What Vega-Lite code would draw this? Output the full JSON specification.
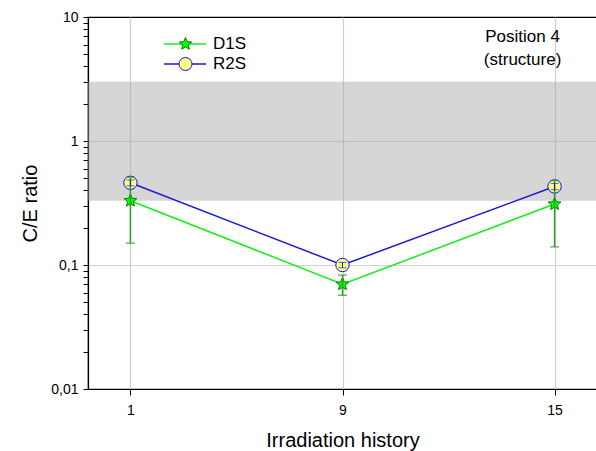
{
  "$schema": "https://vega.github.io/schema/vega-lite/v6.json",
  "width": 509,
  "height": 372,
  "autosize": {"type": "none"},
  "padding": {"left": 88, "top": 17, "right": 0, "bottom": 62},
  "background": "white",
  "config": {
    "font": "Liberation Sans",
    "view": {"stroke": "black", "strokeWidth": 1.2},
    "axis": {
      "domainColor": "black",
      "domainWidth": 1.2,
      "tickColor": "black",
      "labelColor": "black",
      "titleColor": "black",
      "labelFont": "Liberation Sans",
      "titleFont": "Liberation Sans",
      "titleFontWeight": "normal",
      "labelFontSize": 14,
      "titleFontSize": 20,
      "gridColor": "#d0d0d0",
      "gridWidth": 1.2
    }
  },
  "datasets": {
    "pts": [
      {"hist": 1, "series": "D1S", "v": 0.33, "lo": 0.15, "hi": 0.51},
      {"hist": 9, "series": "D1S", "v": 0.07, "lo": 0.057, "hi": 0.083},
      {"hist": 15, "series": "D1S", "v": 0.31, "lo": 0.14, "hi": 0.48},
      {"hist": 1, "series": "R2S", "v": 0.46, "lo": 0.435, "hi": 0.485},
      {"hist": 9, "series": "R2S", "v": 0.1, "lo": 0.095, "hi": 0.105},
      {"hist": 15, "series": "R2S", "v": 0.43, "lo": 0.405, "hi": 0.455}
    ],
    "band": [{"lo": 0.33, "hi": 3}],
    "note": [{"hist": 15, "v": 6.9, "label": ["Position 4", "(structure)"]}]
  },
  "layer": [
    {
      "data": {"name": "band"},
      "mark": {"type": "rect", "color": "#a4a4a4", "opacity": 0.45},
      "encoding": {
        "y": {
          "field": "lo",
          "type": "quantitative",
          "title": "C/E ratio",
          "scale": {"type": "log", "domain": [0.01, 10], "nice": false},
          "axis": {
            "titlePadding": 10,
            "values": [0.01,0.02,0.03,0.04,0.05,0.06,0.07,0.08,0.09,0.1,0.2,0.3,0.4,0.5,0.6,0.7,0.8,0.9,1,2,3,4,5,6,7,8,9,10],
            "labelExpr": "datum.value==0.01?'0,01':datum.value==0.1?'0,1':datum.value==1?'1':datum.value==10?'10':''",
            "labelFontSize": 14,
            "labelPadding": 5,
            "tickSize": 5,
            "gridOpacity": {"condition": {"test": "datum.value==0.1||datum.value==1", "value": 1}, "value": 0}
          }
        },
        "y2": {"field": "hi"}
      }
    },
    {
      "data": {"name": "pts"},
      "mark": {"type": "line", "strokeWidth": 1.5},
      "encoding": {
        "x": {
          "field": "hist",
          "type": "ordinal",
          "title": "Irradiation history",
          "scale": {"type": "point", "padding": 0.2},
          "axis": {
            "labelAngle": 0,
            "labelFontSize": 14,
            "tickSize": 6,
            "labelPadding": 8,
            "titlePadding": 13,
            "grid": true
          }
        },
        "y": {"field": "v", "type": "quantitative", "title": "C/E ratio"},
        "color": {
          "field": "series",
          "type": "nominal",
          "scale": {"domain": ["D1S", "R2S"], "range": ["#14ee14", "#1a1ad6"]},
          "legend": {
            "orient": "none",
            "legendX": 75,
            "legendY": 17,
            "title": null,
            "symbolType": "stroke",
            "symbolSize": 1764,
            "symbolStrokeWidth": 1.5,
            "labelFontSize": 17,
            "labelFont": "Liberation Sans",
            "labelColor": "black",
            "labelOffset": 6,
            "clipHeight": 20,
            "rowPadding": 0,
            "padding": 0
          }
        }
      }
    },
    {
      "data": {"name": "pts"},
      "mark": {"type": "point", "filled": true, "opacity": 1, "strokeWidth": 1, "size": 180},
      "encoding": {
        "x": {"field": "hist", "type": "ordinal", "title": "Irradiation history"},
        "y": {"field": "v", "type": "quantitative", "title": "C/E ratio"},
        "shape": {
          "field": "series",
          "type": "nominal",
          "scale": {"range": ["M0,-1L0.265,-0.364L0.951,-0.309L0.428,0.139L0.588,0.809L0,0.45L-0.588,0.809L-0.428,0.139L-0.951,-0.309L-0.265,-0.364Z", "circle"]},
          "legend": {
            "orient": "none",
            "legendX": 90,
            "legendY": 17,
            "title": null,
            "symbolSize": 170,
            "symbolStrokeWidth": 1,
            "labelExpr": "''",
            "clipHeight": 20,
            "rowPadding": 0,
            "padding": 0
          }
        },
        "fill": {
          "field": "series",
          "type": "nominal",
          "scale": {"range": ["#00ff00", "#ffff80"]},
          "legend": {"orient": "none", "title": null}
        },
        "stroke": {
          "field": "series",
          "type": "nominal",
          "scale": {"range": ["#0a7a0a", "#1010ff"]},
          "legend": {"orient": "none", "title": null}
        }
      }
    },
    {
      "data": {"name": "pts"},
      "transform": [{"filter": "datum.series == 'D1S'"}],
      "mark": {"type": "errorbar", "color": "#2f9a2f", "ticks": {"size": 9, "thickness": 1.5}, "rule": {"strokeWidth": 1.5}},
      "encoding": {
        "x": {"field": "hist", "type": "ordinal", "title": "Irradiation history"},
        "y": {"field": "lo", "type": "quantitative", "title": "C/E ratio"},
        "y2": {"field": "hi"}
      }
    },
    {
      "data": {"name": "pts"},
      "transform": [{"filter": "datum.series == 'R2S'"}],
      "mark": {"type": "errorbar", "color": "#1a1ad6", "ticks": {"size": 8, "thickness": 1}, "rule": {"strokeWidth": 1}},
      "encoding": {
        "x": {"field": "hist", "type": "ordinal", "title": "Irradiation history"},
        "y": {"field": "lo", "type": "quantitative", "title": "C/E ratio"},
        "y2": {"field": "hi"}
      }
    },
    {
      "data": {"name": "note"},
      "mark": {"type": "text", "fontSize": 17, "font": "Liberation Sans", "color": "black", "align": "center", "baseline": "middle", "dx": -32, "lineHeight": 23},
      "encoding": {
        "x": {"field": "hist", "type": "ordinal", "title": "Irradiation history"},
        "y": {"field": "v", "type": "quantitative", "title": "C/E ratio"},
        "text": {"field": "label"}
      }
    }
  ]
}
